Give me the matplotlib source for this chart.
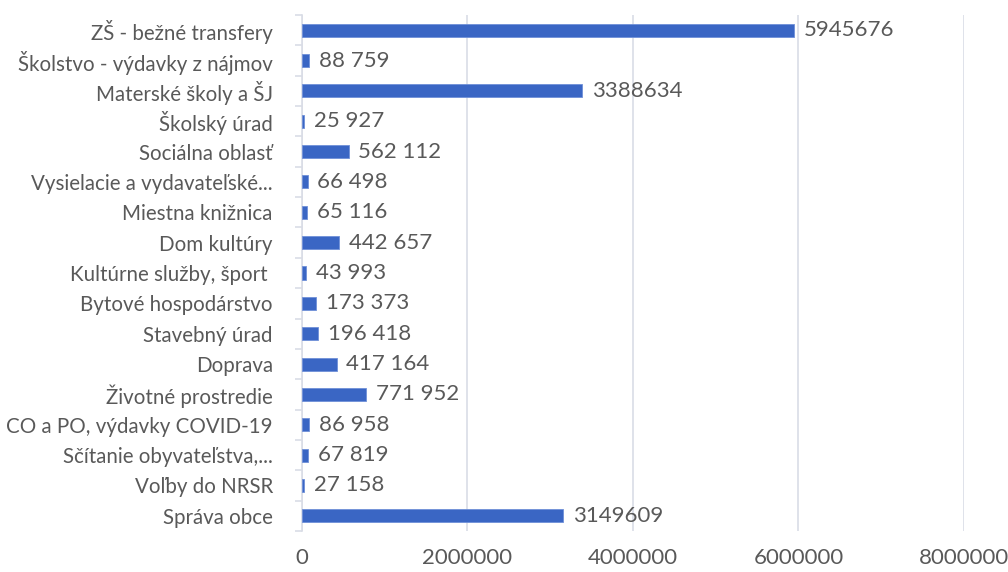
import numpy as np
from matplotlib import pyplot as plt

plt.rcParams['font.family'] = ['Lato', 'DejaVu Sans']

categories = ["ZŠ - bežné transfery", "Školstvo - výdavky z nájmov", "Materské školy a ŠJ",
              "Školský úrad", "Sociálna oblasť", "Vysielacie a vydavateľské...",
              "Miestna knižnica", "Dom kultúry", "Kultúrne služby, šport ",
              "Bytové hospodárstvo", "Stavebný úrad", "Doprava", "Životné prostredie",
              "CO a PO, výdavky COVID-19", "Sčítanie obyvateľstva,...", "Voľby do NRSR",
              "Správa obce"]
values = [5945676, 88759, 3388634, 25927, 562112, 66498, 65116, 442657, 43993,
          173373, 196418, 417164, 771952, 86958, 67819, 27158, 3149609]
value_labels = ["5945676", "88 759", "3388634", "25 927", "562 112", "66 498", "65 116",
                "442 657", "43 993", "173 373", "196 418", "417 164", "771 952",
                "86 958", "67 819", "27 158", "3149609"]
x_ticks = [0, 2000000, 4000000, 6000000, 8000000]

text_col = "#595959"
grid_col = "#D9DDE6"

fig = plt.figure(figsize=(10.08, 5.72), dpi=100)
ax = fig.add_axes([302 / 1008, 1 - 531 / 572, (964 - 302) / 1008, (531 - 15) / 572])

y = np.arange(len(categories))[::-1]
ax.barh(y, values, height=0.43, color="#3A66C4", edgecolor="#6F90D8", linewidth=0.6, zorder=3)
for yi, v, lab in zip(y, values, value_labels):
    ax.text(v + 120000, yi, lab, va="center", ha="left", fontsize=16, color=text_col)

ax.set_xlim(0, 8000000)
ax.set_ylim(-0.5, len(categories) - 0.5)
ax.set_xticks(x_ticks)
ax.set_xticklabels([str(t) for t in x_ticks], fontsize=16, color=text_col)
ax.set_yticks(y)
ax.set_yticklabels(categories, fontsize=14.8, color=text_col)
ax.tick_params(axis="y", length=0, pad=21)
ax.tick_params(axis="x", length=0, pad=12)
ax.set_yticks(np.arange(-0.5, len(categories), 1), minor=True)
ax.tick_params(axis="y", which="minor", length=5, color=grid_col, width=1.2)

ax.grid(axis="x", color=grid_col, linewidth=1.2, zorder=0)
for s in ["top", "right", "bottom"]:
    ax.spines[s].set_visible(False)
ax.spines["left"].set_color(grid_col)
ax.spines["left"].set_linewidth(1.2)

fig.savefig("out.png", dpi=100)
